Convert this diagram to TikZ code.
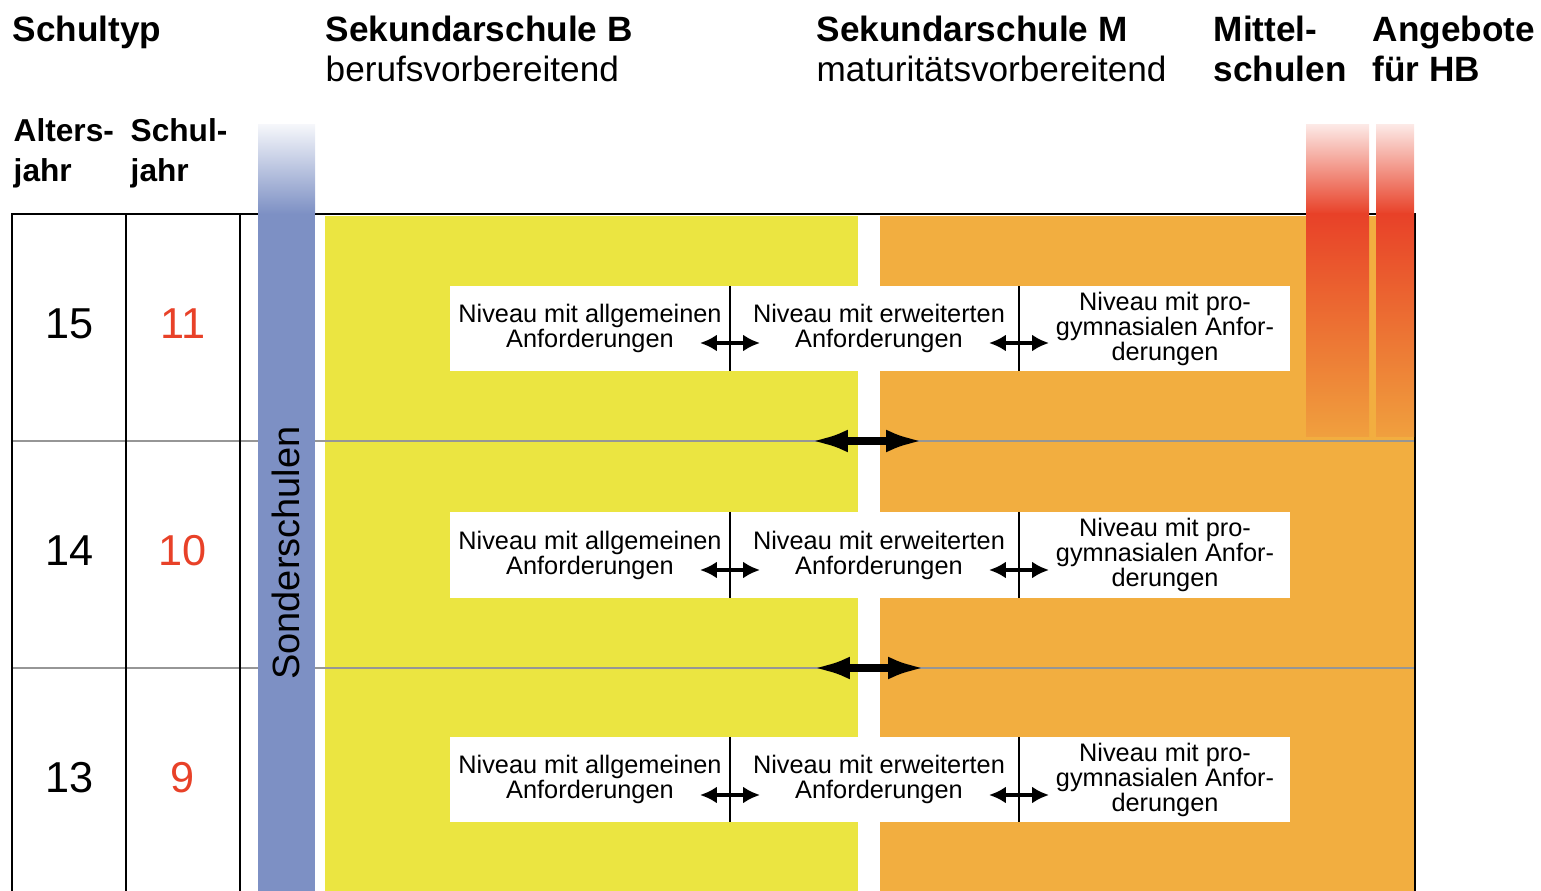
\documentclass[tikz,border=0pt]{standalone}
\usepackage{fontspec}
\setmainfont{Liberation Sans}
\usetikzlibrary{arrows.meta}
\usetikzlibrary{positioning}

\definecolor{gelb}{RGB}{235,229,65}
\definecolor{orang}{RGB}{242,174,64}
\definecolor{blau}{RGB}{125,144,196}
\definecolor{rot}{RGB}{232,65,40}
\definecolor{rotunten}{RGB}{240,160,62}
\definecolor{linie}{RGB}{150,150,150}

\begin{document}
\begin{tikzpicture}[x=0.01cm,y=-0.01cm]
			\tikzset{head/.style = {anchor=base west, inner sep=0pt, 
					font=\fontsize{10}{12}\selectfont\bfseries}}
			\tikzset{subhead/.style = {anchor=base west, inner sep=0pt, 
					font=\fontsize{10}{12}\selectfont}}
			\tikzset{colhead/.style = {anchor=base west, inner sep=0pt, 
					font=\fontsize{9}{11}\selectfont\bfseries}}
			\tikzset{age/.style = {inner sep=0pt, font=\fontsize{12.3}{14}\selectfont}}
			\tikzset{year/.style = {age, text=rot}}
			\tikzset{niveau/.style = {align=center, inner sep=0pt, 
					font=\fontsize{7.2}{7.1}\selectfont}}
			\tikzset{levelarrow/.style = {<->, >={Latex[length=4.8pt,width=4.8pt]}, 
					line width=0.9pt}}
			\tikzset{rowarrow/.style = {<->, >={Latex[length=10.5pt,width=6.5pt]}, 
					line width=2pt}}
			\tikzset{rule/.style = {line width=0.6pt}}
			\tikzset{greyrule/.style = {line width=0.6pt, linie}}
			
			\useasboundingbox (0,0) rectangle (1541,891);
			
			% columns
			\fill[gelb] (325,216) rectangle (858,891);
			\fill[orang] (880,216) rectangle (1415,891);
			
			\draw[greyrule] (12,441) -- (1415,441);
			\draw[greyrule] (12,668) -- (1415,668);
			
			\draw[rule] (12,891) -- (12,214) -- (1415,214) -- (1415,891);
			\draw[rule] (126,214) -- (126,891);
			\draw[rule] (240,214) -- (240,891);
			
			\shade[top color=blau!8!white, bottom color=blau] (258,125) rectangle (315,214);
			\fill[blau] (258,214) rectangle (315,891);
			\shade[top color=rot!12!white, bottom color=rot] (1306,125) rectangle (1369,214);
			\shade[top color=rot, bottom color=rotunten] (1306,214) rectangle (1369,437);
			\shade[top color=rot!12!white, bottom color=rot] (1376,125) rectangle (1414,214);
			\shade[top color=rot, bottom color=rotunten] (1376,214) rectangle (1414,437);
			
			\node[rotate=90, font=\fontsize{10.8}{12}\selectfont] (sonder) at (286,553) {Sonderschulen};
			
			% head
			\node[head] (typ) at (12,42) {Schultyp};
			\node[head] (sekB) at (325,42) {Sekundarschule B};
			\node[subhead] (sekBsub) at (325,82) {berufsvorbereitend};
			\node[head] (sekM) at (816,42) {Sekundarschule M};
			\node[subhead] (sekMsub) at (816,82) {maturitätsvorbereitend};
			\node[head] (mittelA) at (1213,42) {Mittel-};
			\node[head] (mittelB) at (1213,82) {schulen};
			\node[head] (hbA) at (1372,42) {Angebote};
			\node[head] (hbB) at (1372,82) {für HB};
			\node[colhead] (alterA) at (13,142) {Alters-};
			\node[colhead] (alterB) at (13,182) {jahr};
			\node[colhead] (schulA) at (130,142) {Schul-};
			\node[colhead] (schulB) at (130,182) {jahr};
			
			% rows
			\node[age] (a15) at (70,323.5) {15};
			\node[year] (s11) at (183,323.5) {11};
			\fill[white] (450,286) rectangle (1290,371);
			\draw[thin] (730,286) -- (730,371);
			\draw[thin] (1019,286) -- (1019,371);
			\node[niveau] (g11) at (590,328.5) {Niveau mit allgemeinen\\Anforderungen};
			\node[niveau] (e11) at (879,328.5) {Niveau mit erweiterten\\Anforderungen};
			\node[niveau] (p11) at (1165,328.5) {Niveau mit pro-\\gymnasialen Anfor-\\derungen};
			
			\node[age] (a14) at (70,550.5) {14};
			\node[year] (s10) at (183,550.5) {10};
			\fill[white] (450,512) rectangle (1290,598);
			\draw[thin] (730,512) -- (730,598);
			\draw[thin] (1019,512) -- (1019,598);
			\node[niveau] (g10) at (590,555) {Niveau mit allgemeinen\\Anforderungen};
			\node[niveau] (e10) at (879,555) {Niveau mit erweiterten\\Anforderungen};
			\node[niveau] (p10) at (1165,555) {Niveau mit pro-\\gymnasialen Anfor-\\derungen};
			
			\node[age] (a13) at (70,777.5) {13};
			\node[year] (s9) at (183,777.5) {9};
			\fill[white] (450,737) rectangle (1290,822);
			\draw[thin] (730,737) -- (730,822);
			\draw[thin] (1019,737) -- (1019,822);
			\node[niveau] (g9) at (590,779.5) {Niveau mit allgemeinen\\Anforderungen};
			\node[niveau] (e9) at (879,779.5) {Niveau mit erweiterten\\Anforderungen};
			\node[niveau] (p9) at (1165,779.5) {Niveau mit pro-\\gymnasialen Anfor-\\derungen};
			
			%arrows
			\coordinate (ge11l) at (700,343); \coordinate (ge11r) at (760,343);
			\coordinate (ep11l) at (989,343); \coordinate (ep11r) at (1049,343);
			\coordinate (ge10l) at (700,570); \coordinate (ge10r) at (760,570);
			\coordinate (ep10l) at (989,570); \coordinate (ep10r) at (1049,570);
			\coordinate (ge9l) at (700,795); \coordinate (ge9r) at (760,795);
			\coordinate (ep9l) at (989,795); \coordinate (ep9r) at (1049,795);
			\draw[levelarrow] (ge11l) -- (ge11r);
			\draw[levelarrow] (ep11l) -- (ep11r);
			\draw[levelarrow] (ge10l) -- (ge10r);
			\draw[levelarrow] (ep10l) -- (ep10r);
			\draw[levelarrow] (ge9l) -- (ge9r);
			\draw[levelarrow] (ep9l) -- (ep9r);
			
			\coordinate (bm1l) at (811,441); \coordinate (bm1r) at (923,441);
			\coordinate (bm2l) at (813,668); \coordinate (bm2r) at (925,668);
			\draw[rowarrow] (bm1l) -- (bm1r);
			\draw[rowarrow] (bm2l) -- (bm2r);
			
\end{tikzpicture}
\end{document}
